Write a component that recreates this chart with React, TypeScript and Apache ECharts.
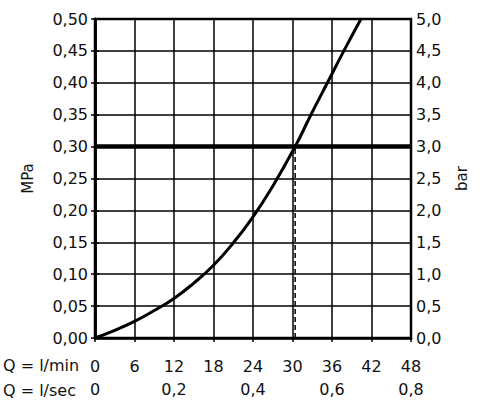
import { useEffect, useRef } from 'react';
import * as echarts from 'echarts';

// Durchfluss-Kennlinie: Q (l/min) gegen Druck (MPa)
const flowLmin = [0, 3, 6, 9, 12, 15, 18, 21, 24, 27, 30.4, 32.8, 35.3, 37.8, 40.4];
const pressureMPa = [0, 0.012, 0.026, 0.043, 0.062, 0.086, 0.114, 0.149, 0.19, 0.238, 0.3, 0.35, 0.4, 0.45, 0.5];

// Arbeitspunkt
const refPressure = 0.3;
const refFlow = 30.4;

// Achsenbeschriftungen
const secLabels = ['0', '0,2', '0,4', '0,6', '0,8'];
const FONT = '"DejaVu Sans"';

const comma = (v: number, d: number) => v.toFixed(d).replace('.', ',');

const App = () => {
  const chartRef = useRef<HTMLDivElement>(null);

  useEffect(() => {
    if (!chartRef.current) return;
    const chart = echarts.init(chartRef.current, undefined, { renderer: 'svg' });

    const labelStyle = { color: '#111', fontSize: 16, fontFamily: FONT };

    const option: echarts.EChartsOption = {
      animation: false,
      backgroundColor: '#fff',
      grid: {
        left: 95,
        right: 69,
        top: 19,
        bottom: 71,
        show: true,
        borderColor: '#000',
        borderWidth: 2.5
      },
      xAxis: [
        {
          type: 'value',
          min: 0,
          max: 48,
          interval: 6,
          axisLine: { show: true, lineStyle: { color: '#000', width: 2.5 } },
          axisTick: { show: true, inside: false, length: 4, lineStyle: { color: '#000', width: 1.5 } },
          splitLine: { show: true, lineStyle: { color: '#000', width: 1.5 } },
          axisLabel: { ...labelStyle, margin: 20, formatter: (v: number) => String(v) }
        },
        {
          type: 'value',
          position: 'bottom',
          offset: 25,
          min: 0,
          max: 48,
          interval: 12,
          axisLine: { show: false },
          axisTick: { show: false },
          splitLine: { show: false },
          axisLabel: {
            ...labelStyle,
            margin: 18,
            formatter: (v: number) => secLabels[Math.round(v / 12)] ?? ''
          }
        }
      ],
      yAxis: [
        {
          type: 'value',
          position: 'left',
          min: 0,
          max: 0.5,
          interval: 0.05,
          name: 'MPa',
          nameLocation: 'middle',
          nameRotate: 90,
          nameGap: 60,
          nameTextStyle: { ...labelStyle, fontSize: 15 },
          axisLine: { show: true, lineStyle: { color: '#000', width: 2.5 } },
          axisTick: { show: true, length: 4, lineStyle: { color: '#000', width: 1.5 } },
          splitLine: { show: true, lineStyle: { color: '#000', width: 1.5 } },
          axisLabel: { ...labelStyle, margin: 7, formatter: (v: number) => comma(v, 2) }
        },
        {
          type: 'value',
          position: 'right',
          min: 0,
          max: 5,
          interval: 0.5,
          name: 'bar',
          nameLocation: 'middle',
          nameRotate: 90,
          nameGap: 43,
          nameTextStyle: { ...labelStyle, fontSize: 15 },
          axisLine: { show: true, lineStyle: { color: '#000', width: 2.5 } },
          axisTick: { show: true, length: 4, lineStyle: { color: '#000', width: 1.5 } },
          splitLine: { show: false },
          axisLabel: { ...labelStyle, margin: 5, formatter: (v: number) => comma(v, 1) }
        }
      ],
      graphic: [
        {
          type: 'text',
          left: 3,
          top: 357,
          style: { text: 'Q = l/min', font: `16px ${FONT}`, fill: '#111' }
        },
        {
          type: 'text',
          left: 3,
          top: 382,
          style: { text: 'Q = l/sec', font: `16px ${FONT}`, fill: '#111' }
        }
      ],
      series: [
        {
          type: 'line',
          data: [[0, refPressure], [48, refPressure]],
          symbol: 'none',
          lineStyle: { color: '#000', width: 4.5 },
          z: 3
        },
        {
          type: 'line',
          data: [[refFlow, 0], [refFlow, refPressure]],
          symbol: 'none',
          lineStyle: { color: '#000', width: 1.5, type: [5, 3] },
          z: 3
        },
        {
          type: 'line',
          data: flowLmin.map((q, i) => [q, pressureMPa[i]]),
          smooth: 0.5,
          symbol: 'none',
          lineStyle: { color: '#000', width: 3 },
          z: 4
        }
      ]
    };

    chart.setOption(option);
    return () => chart.dispose();
  }, []);

  return (
    <div
      ref={chartRef}
      style={{ position: 'absolute', left: 0, top: 0, width: 480, height: 409 }}
    />
  );
};

export default App;
